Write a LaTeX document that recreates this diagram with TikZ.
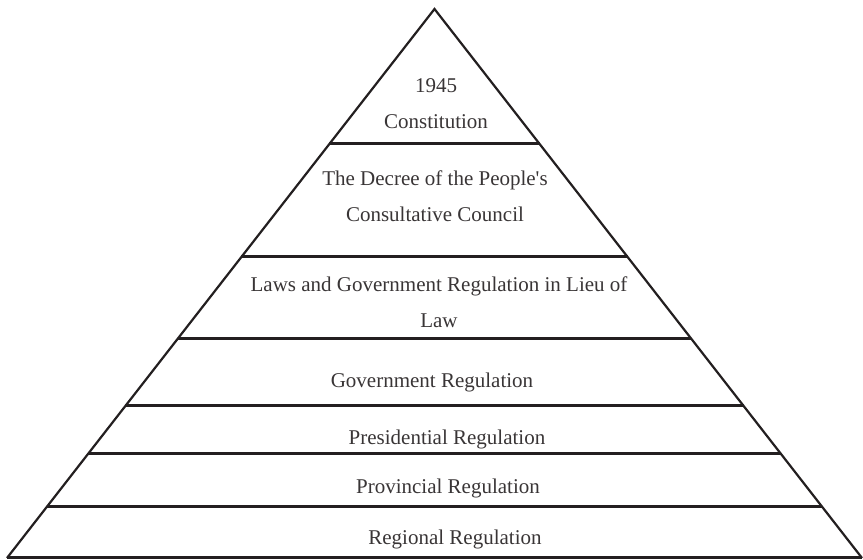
\documentclass[tikz,border=0pt]{standalone}
\usepackage{fontspec}
\setmainfont{Liberation Serif}
\usepackage{tikz}
\usetikzlibrary{calc}
\definecolor{pyramidink}{HTML}{231F20}
\tikzset{
  sideline/.style={draw=pyramidink,line width=1.1pt,line join=miter},
  tierline/.style={draw=pyramidink,line width=1.5pt},
  tierlabel/.style={text=pyramidink!90,font=\fontsize{10.5}{18}\selectfont,
    align=center,anchor=base,inner sep=0pt}
}

\begin{document}
\begin{tikzpicture}[x=0.5pt,y=-0.5pt]
  \useasboundingbox (0,0) rectangle (863,560);
  \coordinate (apex) at (434.5,9);
  \coordinate (bl) at (7,558);
  \coordinate (br) at (862,558);
  \draw[sideline] (bl) -- (apex) -- (br);
  \draw[tierline] (bl) -- (br);
  \foreach \yy in {144,257,339,406,454,507}
    \draw[tierline] ($(apex)!{(\yy-9)/549}!(bl)$) -- ($(apex)!{(\yy-9)/549}!(br)$);
  % two-line labels sit on the baseline of their last line
  \node[tierlabel] (constitution) at (436,129) {1945\\Constitution};
  \node[tierlabel] (decree) at (435,222) {The Decree of the People\textquotesingle s\\Consultative Council};
  \node[tierlabel] (laws) at (439,328) {Laws and Government Regulation in Lieu of\\Law};
  \node[tierlabel] (govreg) at (432,388) {Government Regulation};
  \node[tierlabel] (presreg) at (447,445) {Presidential Regulation};
  \node[tierlabel] (provreg) at (448,494) {Provincial Regulation};
  \node[tierlabel] (regreg) at (455,545) {Regional Regulation};
\end{tikzpicture}
\end{document}
